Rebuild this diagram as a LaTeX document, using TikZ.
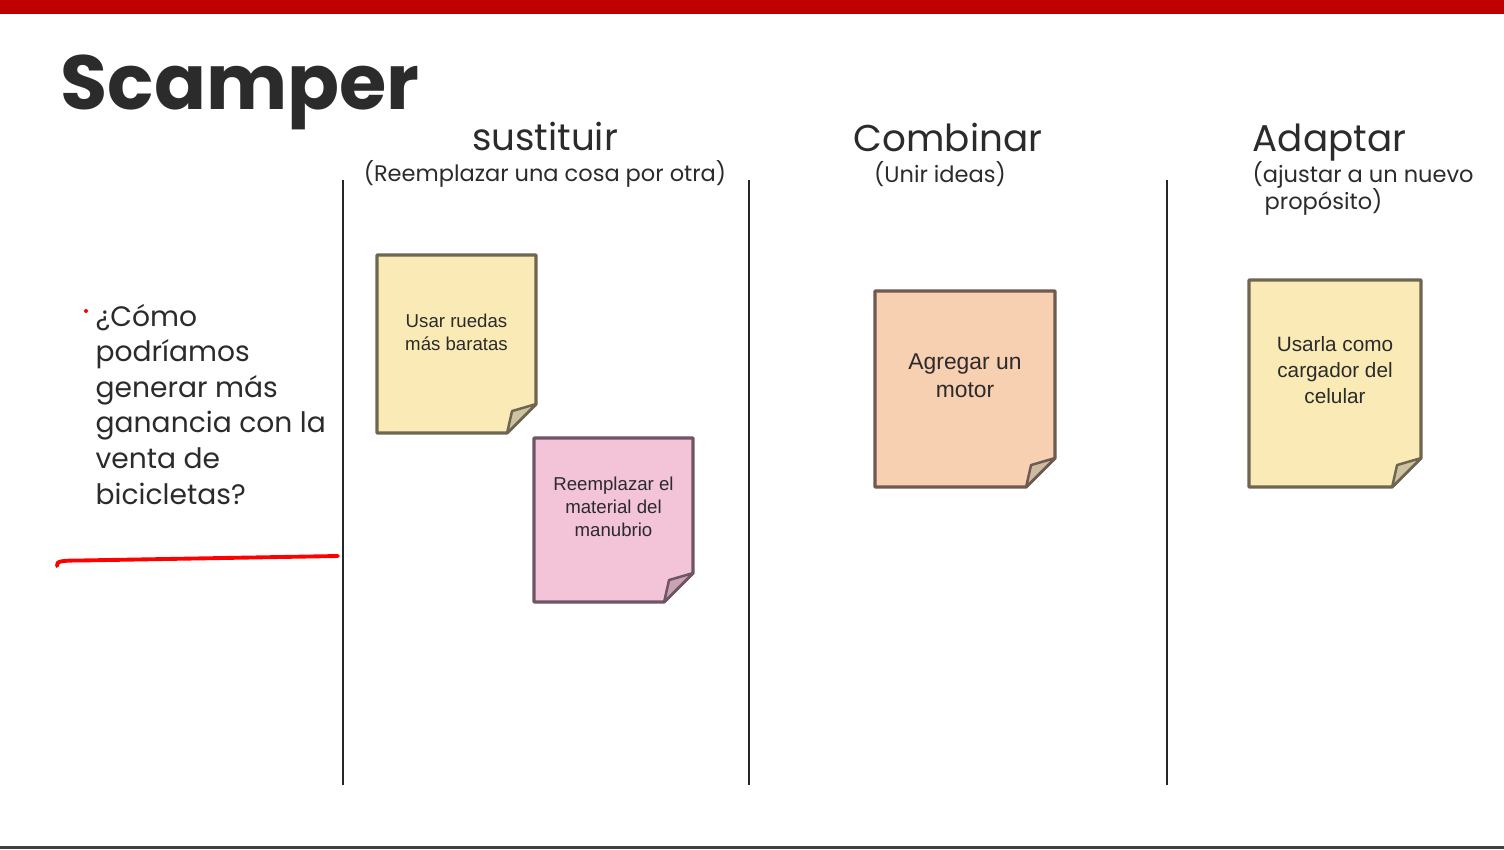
\documentclass[tikz,border=0pt]{standalone}
\usepackage{fontspec}
\setmainfont{Poppins}
\newfontfamily\notefont{Liberation Sans}
\usetikzlibrary{positioning,calc}

\definecolor{scarlet}{HTML}{C00000}
\definecolor{inkdark}{HTML}{2B2B2B}
\definecolor{paperyellow}{HTML}{FAEAB5}
\definecolor{edgeyellow}{HTML}{6E6650}
\definecolor{curlyellow}{HTML}{CDC3A2}
\definecolor{paperpink}{HTML}{F3C3D8}
\definecolor{edgepink}{HTML}{6E5565}
\definecolor{curlpink}{HTML}{C9A3B4}
\definecolor{paperpeach}{HTML}{F7CFB1}
\definecolor{edgepeach}{HTML}{6E5A50}
\definecolor{curlpeach}{HTML}{CDB9A4}

\begin{document}
\begin{tikzpicture}[x=0.01cm, y=-0.01cm,
    heading/.style={anchor=base, text=inkdark, font=\fontsize{10.6}{13}\selectfont, inner sep=0},
    subheading/.style={anchor=base, text=inkdark, font=\fontsize{6.4}{8}\selectfont, inner sep=0},
    note/.style={draw=none, inner sep=0, outer sep=0},
    notetext/.style={align=center, text=inkdark, inner sep=0},
    divider/.style={line width=0.55pt, black!85}]

    \useasboundingbox (0,0) rectangle (1504,849);
    \fill[white] (0,0) rectangle (1504,849);
    \fill[scarlet] (0,0) rectangle (1504,14);
    \fill[black!75] (0,846) rectangle (1504,849);

    % title and column headings
    \node[anchor=base west, inner sep=0, text=inkdark, font=\fontsize{21.8}{26}\selectfont\bfseries] (title) at (60,110) {Scamper};
    \node[heading] (sust) at (545,151) {sustituir};
    \node[subheading] (sustsub) at (545,182) {(Reemplazar una cosa por otra)};
    \node[heading] (comb) at (948,152) {Combinar};
    \node[subheading] (combsub) at (940,183) {(Unir ideas)};
    \node[heading, anchor=base west] (adap) at (1252,152) {Adaptar};
    \node[subheading, anchor=base west] (adapsub) at (1252,183) {(ajustar a un nuevo};
    \node[subheading, anchor=base west] (adapsub2) at (1264,210) {propósito)};

    \foreach \x in {343,749,1167}
        \draw[divider] (\x,180) -- (\x,785);

    % question
    \node[anchor=base west, align=left, inner sep=0, text=inkdark,
          font=\fontsize{8}{10.1}\selectfont] (question) at (95,504)
          {¿Cómo\\podríamos\\generar más\\ganancia con la\\venta de\\bicicletas?};
    \fill[red] (86,311) circle (2);
    \coordinate (inkstart) at (57,566);
    \coordinate (inkend) at (338,556);
    \draw[red, line width=1.1pt, line cap=round]
        (inkstart) .. controls (56,561) and (62,560.5) .. (80,560.5) -- (inkend);

    % sticky notes
    \node[note, minimum width=1.59cm, minimum height=1.78cm] (n1) at (456.5,344) {};
    \node[note, minimum width=1.59cm, minimum height=1.64cm] (n2) at (613.5,520) {};
    \node[note, minimum width=1.80cm, minimum height=1.96cm] (n3) at (965,389) {};
    \node[note, minimum width=1.72cm, minimum height=2.07cm] (n4) at (1335,383.5) {};

    \foreach \n/\paper/\edge/\curl in {n1/paperyellow/edgeyellow/curlyellow,
            n2/paperpink/edgepink/curlpink, n3/paperpeach/edgepeach/curlpeach,
            n4/paperyellow/edgeyellow/curlyellow} {
        \draw[line width=0.9pt, draw=\edge, fill=\paper, line join=round]
            (\n.north west) -- (\n.north east) -- ($(\n.south east)+(0,-29)$)
            -- ($(\n.south east)+(-29,0)$) -- (\n.south west) -- cycle;
        \draw[line width=0.7pt, draw=\edge, fill=\curl, line join=round]
            ($(\n.south east)+(0,-29)$) -- ($(\n.south east)+(-24,-22)$)
            -- ($(\n.south east)+(-29,0)$) -- cycle;
    }

    \node[notetext, font=\notefont\fontsize{5.3}{6.5}\selectfont] (t1) at ($(n1.center)+(0,-12)$) {Usar ruedas\\más baratas};
    \node[notetext, font=\notefont\fontsize{5.3}{6.5}\selectfont] (t2) at ($(n2.center)+(0,-13)$) {Reemplazar el\\material del\\manubrio};
    \node[notetext, font=\notefont\fontsize{6.5}{8}\selectfont] (t3) at ($(n3.center)+(0,-13)$) {Agregar un\\motor};
    \node[notetext, font=\notefont\fontsize{5.9}{7.4}\selectfont] (t4) at ($(n4.center)+(0,-13)$) {Usarla como\\cargador del\\celular};
\end{tikzpicture}
\end{document}
